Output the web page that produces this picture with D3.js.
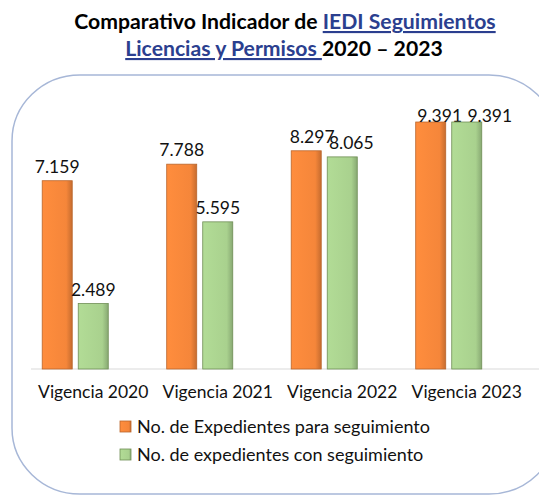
<!DOCTYPE html>
<html>
<head>
<meta charset="utf-8">
<script src="https://cdn.jsdelivr.net/npm/d3@7"></script>
<style>
  body { margin: 0; background: #fff; }
  text { font-family: Lato, "Open Sans", sans-serif; }
</style>
</head>
<body>
<div id="chart"></div>
<script>
// datos del grafico
var categorias = ["Vigencia 2020", "Vigencia 2021", "Vigencia 2022", "Vigencia 2023"];
var series = ["No. de Expedientes para seguimiento", "No. de expedientes con seguimiento"];
var paraSeguimiento = [7159, 7788, 8297, 9391];
var conSeguimiento = [2489, 5595, 8065, 9391];

var valores = [paraSeguimiento, conSeguimiento];
var colores = ["#f5863a", "#a9d18e"];
var bordes = ["#b9652c", "#6f8e55"];

var W = 539, H = 496;
var svg = d3.select("#chart").append("svg")
  .attr("width", W)
  .attr("height", H);

// gradientes para el efecto de bisel
var defs = svg.append("defs");
colores.forEach(function (c, i) {
  var g = defs.append("linearGradient").attr("id", "grad" + i)
    .attr("x1", "0").attr("x2", "1").attr("y1", "0").attr("y2", "0");
  g.append("stop").attr("offset", "0").attr("stop-color", d3.color(c).brighter(0.15));
  g.append("stop").attr("offset", "0.8").attr("stop-color", c);
  g.append("stop").attr("offset", "1").attr("stop-color", d3.color(c).darker(0.6));
});

// titulo
var titulo = svg.append("text")
  .attr("text-anchor", "middle")
  .attr("font-weight", "bold")
  .attr("font-size", 21.2);
var l1 = titulo.append("tspan").attr("x", 285).attr("y", 29);
l1.append("tspan").attr("fill", "#000").text("Comparativo Indicador de ");
l1.append("tspan").attr("fill", "#2b3f8f").attr("text-decoration", "underline").text("IEDI Seguimientos");
var l2 = titulo.append("tspan").attr("x", 284).attr("y", 56);
l2.append("tspan").attr("fill", "#2b3f8f").attr("text-decoration", "underline").text("Licencias y Permisos ");
l2.append("tspan").attr("fill", "#000").text("2020 \u2013 2023");

// marco redondeado
svg.append("rect")
  .attr("x", 12).attr("y", 75)
  .attr("width", 545).attr("height", 419)
  .attr("rx", 68).attr("ry", 66)
  .attr("fill", "none")
  .attr("stroke", "#a7b7d7")
  .attr("stroke-width", 1.5);

var x0 = d3.scaleBand()
  .domain(categorias)
  .range([31, 529])
  .paddingInner(0.18)
  .paddingOuter(0.09);

// tres posiciones, la tercera vacia como en el original
var x1 = d3.scaleBand()
  .domain([0, 1, 2])
  .range([0, x0.bandwidth()])
  .paddingInner(6 / 36);

var y = d3.scaleLinear()
  .domain([0, 10000])
  .range([369, 106]);

// linea base
svg.append("line")
  .attr("x1", 31).attr("x2", 539)
  .attr("y1", y(0)).attr("y2", y(0))
  .attr("stroke", "#d9d9d9")
  .attr("stroke-width", 1);

var grupos = svg.selectAll("g.serie")
  .data(valores)
  .enter()
    .append("g")
    .attr("class", "serie");

grupos.each(function (vals, s) {
  d3.select(this).selectAll("rect")
    .data(vals)
    .enter()
      .append("rect")
      .attr("x", function (d, i) { return x0(categorias[i]) + x1(s); })
      .attr("y", function (d) { return y(d); })
      .attr("width", x1.bandwidth())
      .attr("height", function (d) { return y(0) - y(d); })
      .attr("fill", "url(#grad" + s + ")")
      .attr("stroke", bordes[s])
      .attr("stroke-width", 0.8);
});

// ajuste de etiquetas que se traslapan (como en Excel)
var nudge = { "0-2": [6, 0], "1-2": [9, 0], "0-3": [9, 8], "1-3": [23, 8] };

var fmt = function (v) { return d3.format(",")(v).replace(",", "."); };

grupos.each(function (vals, s) {
  d3.select(this).selectAll("text")
    .data(vals)
    .enter()
      .append("text")
      .attr("text-anchor", "middle")
      .attr("font-size", 17.5)
      .attr("fill", "#111")
      .attr("x", function (d, i) {
        var n = nudge[s + "-" + i] || [0, 0];
        return x0(categorias[i]) + x1(s) + x1.bandwidth() / 2 + n[0];
      })
      .attr("y", function (d, i) {
        var n = nudge[s + "-" + i] || [0, 0];
        return y(d) - 8 + n[1];
      })
      .text(fmt);
});

// etiquetas del eje x
svg.selectAll("text.cat")
  .data(categorias)
  .enter()
    .append("text")
    .attr("class", "cat")
    .attr("text-anchor", "middle")
    .attr("font-size", 17.5)
    .attr("fill", "#111")
    .attr("x", function (d) { return x0(d) + x0.bandwidth() / 2; })
    .attr("y", 398)
    .text(function (d) { return d; });

// leyenda
var ley = svg.selectAll("g.ley")
  .data(series)
  .enter()
    .append("g")
    .attr("class", "ley")
    .attr("transform", function (d, i) { return "translate(120," + (421 + i * 28) + ")"; });

ley.append("rect")
  .attr("width", 11).attr("height", 11)
  .attr("fill", function (d, i) { return "url(#grad" + i + ")"; })
  .attr("stroke", function (d, i) { return bordes[i]; })
  .attr("stroke-width", 0.8);

ley.append("text")
  .attr("x", 17)
  .attr("y", 12)
  .attr("font-size", 18)
  .attr("fill", "#111")
  .text(function (d) { return d; });
</script>
</body>
</html>
